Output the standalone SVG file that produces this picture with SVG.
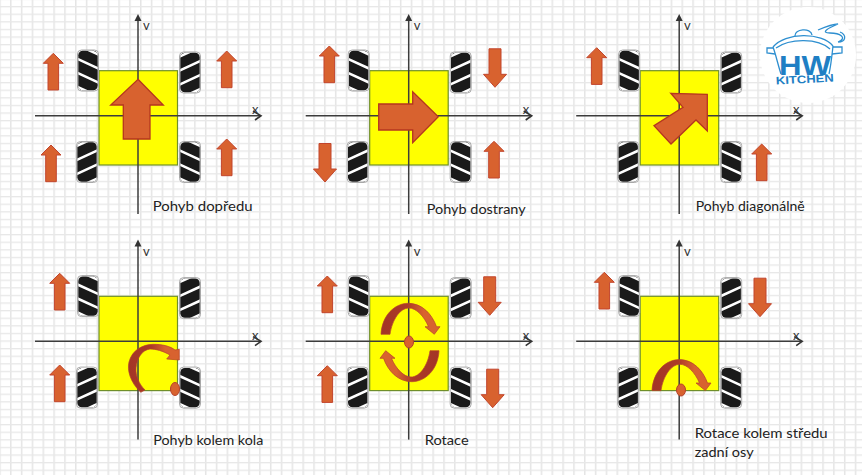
<svg xmlns="http://www.w3.org/2000/svg" xmlns:xlink="http://www.w3.org/1999/xlink" width="862" height="475" viewBox="0 0 862 475">
<style>
.lbl{font-family:"Lato","Open Sans","DejaVu Sans",sans-serif;font-size:13.5px;fill:#222}
.ax{font-family:"Lato","DejaVu Sans",sans-serif;font-size:13px;fill:#333}
.body{fill:#ffff00;stroke:#6f8f2a;stroke-width:1.2}
.axis{stroke:#3c3c3c;stroke-width:1.5;fill:none}
.arr{fill:#d8622f;stroke:#c2452d;stroke-width:1}
.big{fill:#d8622f;stroke:#b5361f;stroke-width:1.3}
.pivot{fill:#d8622f;stroke:#b5402a;stroke-width:1}
.logoS{fill:none;stroke:#2e8fd0;stroke-width:1.3}
</style>
<defs>
<pattern id="grid" width="10.83" height="7.6" patternUnits="userSpaceOnUse" x="-0.8" y="-1.6">
<rect x="0" y="0" width="10.83" height="7.6" fill="#fff"/>
<rect x="0" y="0" width="1.5" height="7.6" fill="#e5e5e5"/>
<rect x="0" y="0" width="10.83" height="1.3" fill="#e8e8e8"/>
</pattern>
<clipPath id="tc"><rect x="0.8" y="0.8" width="19.4" height="39.4" rx="4.5"/></clipPath>
<g id="wheelA">
<rect x="0" y="0" width="21" height="41" rx="4" fill="#fff" stroke="#a8a8a8" stroke-width="1"/>
<g clip-path="url(#tc)">
<rect x="0" y="0" width="21" height="41" fill="#1a1a1a"/>
<path d="M-1,-5.5 L22,5 M-1,8.5 L22,19 M-1,22.5 L22,33 M-1,36.5 L22,47" stroke="#fff" stroke-width="2.6"/>
</g>
</g>
<use id="wheelB" xlink:href="#wheelA" href="#wheelA" transform="matrix(-1 0 0 1 21 0)"/>
<g id="base">
<rect class="body" x="99" y="70.7" width="78.5" height="94.3"/>
<path class="axis" d="M138,17 V214"/>
<path class="axis" d="M35,115.7 H260"/>
<path d="M138,14 L134.5,21 L141.5,21 Z" fill="#333"/>
<path d="M253,111 L261,115.7 L255,120" fill="none" stroke="#333" stroke-width="1.6"/>
<use href="#wheelA" transform="translate(77.5,50)"/>
<use href="#wheelB" transform="translate(179.5,52)"/>
<use href="#wheelB" transform="translate(76.5,141.5)"/>
<use href="#wheelA" transform="translate(179.5,141.5)"/>
</g>
<path id="up" d="M0,0 L10,10 L5.3,10 L5.3,36.7 L-5.3,36.7 L-5.3,10 L-10,10 Z"/>
<path id="down" d="M0,0 L11.5,-13 L6,-13 L6,-38.5 L-6,-38.5 L-6,-13 L-11.5,-13 Z"/>
<linearGradient id="arcG" x1="0" x2="1" y1="0" y2="0"><stop offset="0" stop-color="#a33526"/><stop offset="0.45" stop-color="#ac3a28"/><stop offset="0.72" stop-color="#d8622f"/></linearGradient>
<g id="arc">
<path d="M381,334.3 C382,315 395,303.3 408.3,303.3 C422,303.3 432,314 436.5,326.7 L440,326.7 L434.3,334.3 L425,326.7 L428.5,326.7 C424,316 416,308 409,308 C400,308 392,320 390,334.3 Z" fill="url(#arcG)" stroke="#b5402a" stroke-width="0.7"/>
</g>
</defs>

<rect id="paper" x="0" y="0" width="862" height="475" fill="url(#grid)"/>

<g id="panel-dopredu">
<use href="#base"/>
<text class="ax" x="143" y="30">v</text><text class="ax" x="252" y="114">x</text>
<use class="arr" href="#up" x="53.3" y="53.3"/><use class="arr" href="#up" x="226.7" y="51"/>
<use class="arr" href="#up" x="51" y="145"/><use class="arr" href="#up" x="226.7" y="139"/>
<path class="big" d="M138,79.3 L163.3,105 L150,105 L150,139 L123.3,139 L123.3,105 L110.7,105 Z"/>
<text class="lbl" x="152.7" y="211" textLength="100" lengthAdjust="spacingAndGlyphs">Pohyb dopředu</text>
</g>

<g id="panel-dostrany">
<use href="#base" x="270.7"/>
<text class="ax" x="413.7" y="30">v</text><text class="ax" x="522.7" y="114">x</text>
<use class="arr" href="#up" x="329.3" y="46"/><use class="arr" href="#down" x="495" y="87.3"/>
<use class="arr" href="#down" x="325" y="182"/><use class="arr" href="#up" x="494" y="141.3"/>
<path class="big" d="M378.7,104 L412.7,104 L412.7,91.7 L438.3,116.7 L412.7,142.7 L412.7,130 L378.7,130 Z"/>
<text class="lbl" x="426.7" y="214" textLength="99" lengthAdjust="spacingAndGlyphs">Pohyb dostrany</text>
</g>

<g id="panel-diagonalne">
<use href="#base" x="541.2"/>
<text class="ax" x="684" y="30">v</text><text class="ax" x="793" y="114">x</text>
<use class="arr" href="#up" x="596.7" y="47.7"/><use class="arr" href="#up" x="761.7" y="144"/>
<path class="big" d="M670.7,93.3 L707.3,94.3 L707.3,131 L696,120 L671,144 L654,125.7 L683,107.3 Z"/>
<text class="lbl" x="695.7" y="211" textLength="109" lengthAdjust="spacingAndGlyphs">Pohyb diagonálně</text>
</g>

<g id="panel-kolem-kola">
<use href="#base" y="225.6"/>
<text class="ax" x="143" y="255.6">v</text><text class="ax" x="252" y="339.6">x</text>
<use class="arr" href="#up" x="59.7" y="273.3"/><use class="arr" href="#up" x="59.7" y="365"/>
<path d="M140.7,392.3 C130,382 127,370 129,362 C132,350 143,344.3 153.3,344.3 C162,344.3 170,346 175,350 L179.3,349.3 L179.3,360 L166.7,359 L170,355 C163,351 156,349 150,349 C142,350 137,358 136,368 C135.5,376 139,384 145,390 Z" fill="url(#arcG)" stroke="#b5402a" stroke-width="0.7"/>
<ellipse class="pivot" cx="175" cy="389" rx="4.5" ry="6.5"/>
<text class="lbl" x="153.3" y="445" textLength="110" lengthAdjust="spacingAndGlyphs">Pohyb kolem kola</text>
</g>

<g id="panel-rotace">
<use href="#base" x="270.7" y="225.6"/>
<text class="ax" x="413.7" y="255.6">v</text><text class="ax" x="522.7" y="339.6">x</text>
<use class="arr" href="#up" x="327.3" y="276"/><use class="arr" href="#down" x="489.7" y="315.3"/>
<use class="arr" href="#up" x="327.3" y="365.7"/><use class="arr" href="#down" x="492.7" y="407.7"/>
<use href="#arc"/>
<use href="#arc" transform="rotate(180 410 342.5)"/>
<ellipse class="pivot" cx="409" cy="342" rx="4.5" ry="6"/>
<text class="lbl" x="424.7" y="445" textLength="44" lengthAdjust="spacingAndGlyphs">Rotace</text>
</g>

<g id="panel-zadni-osa">
<use href="#base" x="541.2" y="225.6"/>
<text class="ax" x="684" y="255.6">v</text><text class="ax" x="793" y="339.6">x</text>
<use class="arr" href="#up" x="604.3" y="272.3"/><use class="arr" href="#down" x="760" y="316.7"/>
<use href="#arc" x="271" y="56.3"/>
<ellipse class="pivot" cx="681" cy="390" rx="4.5" ry="6"/>
<text class="lbl" x="694.7" y="438" textLength="133" lengthAdjust="spacingAndGlyphs">Rotace kolem středu</text>
<text class="lbl" x="694.7" y="456.7" textLength="59" lengthAdjust="spacingAndGlyphs">zadní osy</text>
</g>

<g id="logo">
<circle cx="808" cy="55" r="48" fill="#fff"/>
<path class="logoS" d="M773,47 C785,32 822,32 833,46"/>
<path class="logoS" d="M776,48 C790,38 818,38 830,49"/>
<path class="logoS" d="M795,36 C794,29 811,27 812,35"/>
<path class="logoS" d="M773,47 C776,55 778,65 781,74 M833,46 C832,55 831,65 829,74"/>
<path class="logoS" d="M773,48 L767,48 L767,53 L775,54 M833,47 L842,47 L842,53 L832,54"/>
<path class="logoS" d="M818,30 C825,27 835,24 838,24 C828,28 820,33 830,33 C840,33 848,38 838,42 M838,42 C846,42 847,35 840,32"/>
<text x="805" y="75" text-anchor="middle" font-family="'Liberation Sans',Arial,sans-serif" font-weight="700" font-size="28" fill="#1f7fc4" textLength="52" lengthAdjust="spacingAndGlyphs">HW</text>
<text x="805" y="83" text-anchor="middle" font-family="'Liberation Sans',Arial,sans-serif" font-weight="700" font-size="11" fill="#1f7fc4" textLength="58" lengthAdjust="spacingAndGlyphs" transform="rotate(-3 805 83)">KITCHEN</text>
</g>
</svg>
